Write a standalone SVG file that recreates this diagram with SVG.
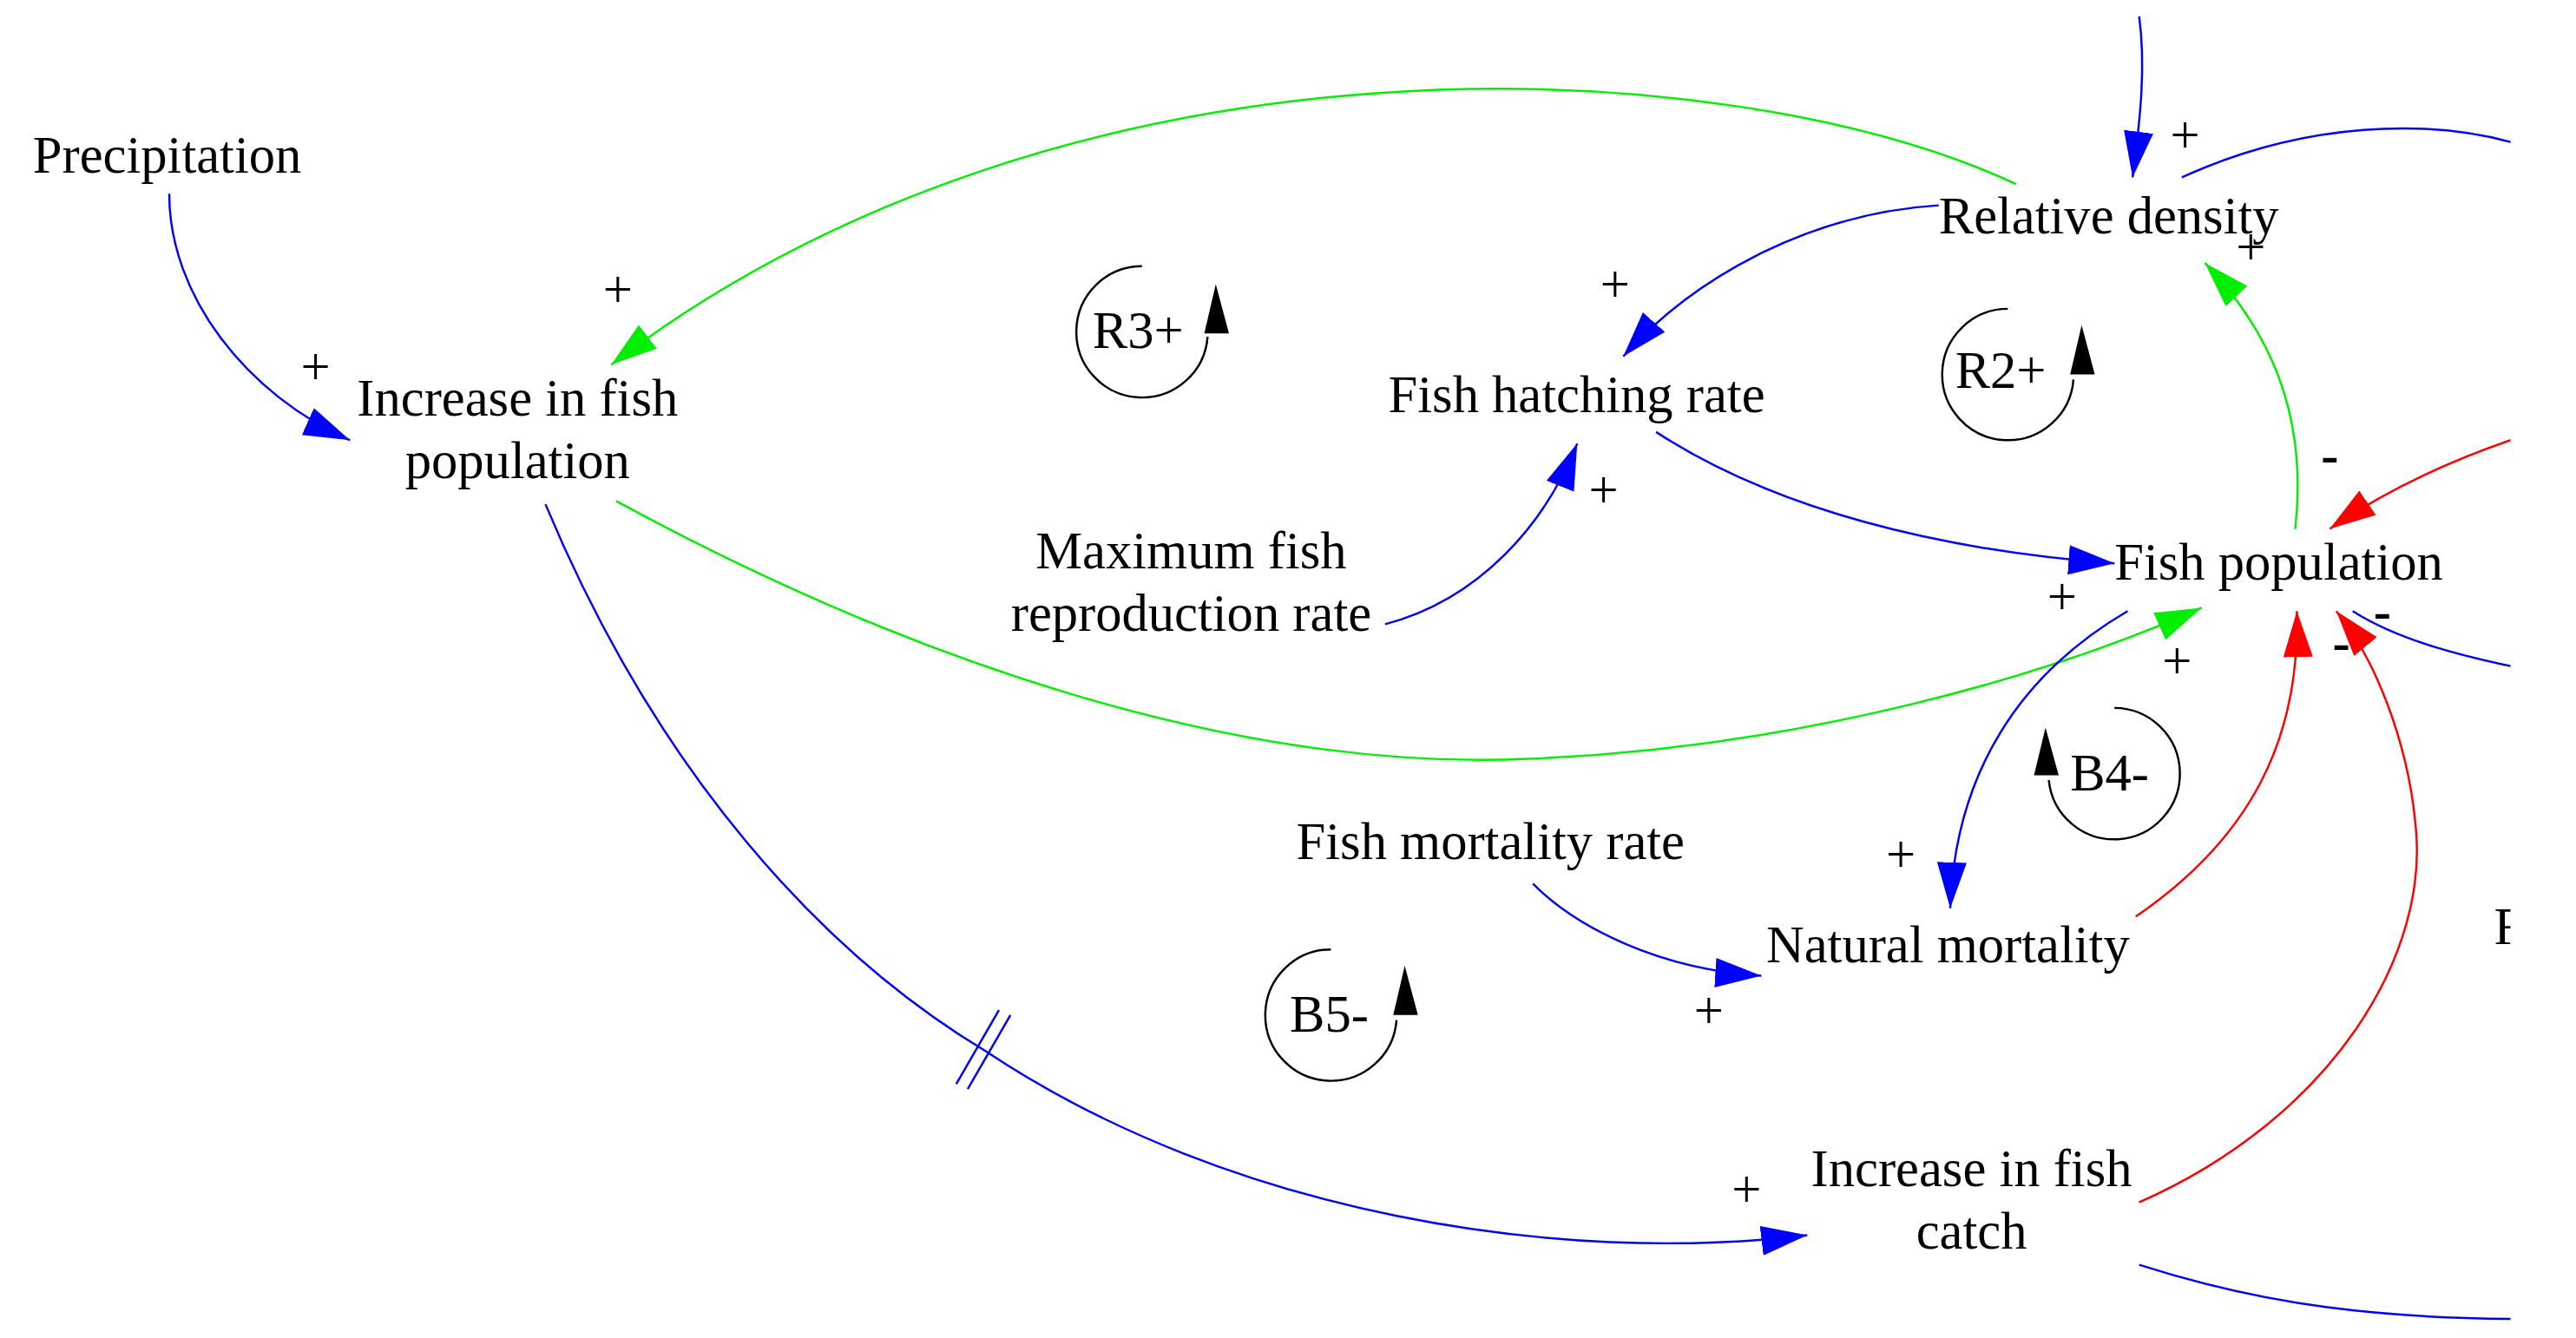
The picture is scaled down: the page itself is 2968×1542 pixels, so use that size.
<svg xmlns="http://www.w3.org/2000/svg" width="2968" height="1542" viewBox="0 0 2968 1542">
<style>
text{font-family:"Liberation Serif","Times New Roman",serif;font-size:32px;fill:#000}
.m{text-anchor:middle}
.c{fill:none;stroke-width:1.3}
.b{stroke:#0000ff}.g{stroke:#00ee00}.r{stroke:#ff0000}
.loop{fill:none;stroke:#000;stroke-width:1.3}
</style>
<defs>
<marker id="ab" markerUnits="userSpaceOnUse" markerWidth="30" markerHeight="20" refX="28" refY="9" orient="auto"><path d="M0,0 L28,9 L0,18 Z" fill="#0000ff"/></marker>
<marker id="ag" markerUnits="userSpaceOnUse" markerWidth="30" markerHeight="20" refX="28" refY="9" orient="auto"><path d="M0,0 L28,9 L0,18 Z" fill="#00ee00"/></marker>
<marker id="ar" markerUnits="userSpaceOnUse" markerWidth="30" markerHeight="20" refX="28" refY="9" orient="auto"><path d="M0,0 L28,9 L0,18 Z" fill="#ff0000"/></marker>
<clipPath id="clip"><rect x="0" y="0" width="1528" height="820"/></clipPath>
</defs>
<rect width="2968" height="1542" fill="#fff"/>
<g transform="scale(1.893)" clip-path="url(#clip)">
<g id="connectors">
<path class="c b" d="M103,118 C103,180 150,240 213,268" marker-end="url(#ab)"/>
<path class="c g" d="M1227,112 C1050,30 650,10 372,222" marker-end="url(#ag)"/>
<path class="c b" d="M1180,125 C1100,130 1030,170 988,217" marker-end="url(#ab)"/>
<path class="c b" d="M843,380 C900,365 940,320 960,270" marker-end="url(#ab)"/>
<path class="c b" d="M1008,263 C1080,310 1180,335 1287,343" marker-end="url(#ab)"/>
<path class="c g" d="M375,305 C550,400 750,470 930,462 C1100,455 1250,410 1340,370" marker-end="url(#ag)"/>
<path class="c g" d="M1397,322 C1405,250 1380,200 1342,160" marker-end="url(#ag)"/>
<path class="c b" d="M1302,10 C1306,40 1303,70 1298,108" marker-end="url(#ab)"/>
<path class="c b" d="M1328,108 C1400,75 1480,70 1540,90"/>
<path class="c r" d="M1540,264 C1490,280 1450,300 1418,322" marker-end="url(#ar)"/>
<path class="c b" d="M1432,372 C1460,390 1500,400 1540,408"/>
<path class="c b" d="M1295,372 C1230,410 1190,470 1187,553" marker-end="url(#ab)"/>
<path class="c r" d="M1300,558 C1370,510 1400,450 1398,372" marker-end="url(#ar)"/>
<path class="c r" d="M1302,732 C1420,680 1480,580 1470,500 C1465,450 1445,400 1422,372" marker-end="url(#ar)"/>
<path class="c b" d="M933,538 C960,565 1010,590 1072,594" marker-end="url(#ab)"/>
<path class="c b" d="M332,307 C400,470 500,580 600,640 C750,740 950,770 1100,752" marker-end="url(#ab)"/>
<path class="c b" d="M582,660 L608,615 M589,663 L615,618"/>
<path class="c b" d="M1302,770 C1380,795 1450,803 1540,803"/>
</g>
<g id="signs">
<text x="192" y="234" class="m" font-size="26">+</text>
<text x="376" y="187" class="m" font-size="26">+</text>
<text x="983" y="184" class="m" font-size="26">+</text>
<text x="976" y="309" class="m" font-size="26">+</text>
<text x="1255" y="374" class="m" font-size="26">+</text>
<text x="1325" y="413" class="m" font-size="26">+</text>
<text x="1370" y="161" class="m" font-size="26">+</text>
<text x="1330" y="93" class="m" font-size="26">+</text>
<text x="1157" y="531" class="m" font-size="26">+</text>
<text x="1040" y="626" class="m" font-size="26">+</text>
<text x="1063" y="735" class="m" font-size="26">+</text>
<text x="1418" y="288" class="m" font-size="26" font-weight="bold">-</text>
<text x="1450" y="383" class="m" font-size="26" font-weight="bold">-</text>
<text x="1425" y="402" class="m" font-size="26" font-weight="bold">-</text>
</g>
<g id="n-precipitation"><text x="20" y="105">Precipitation</text></g>
<g id="n-increase-pop"><text x="315" y="253" class="m">Increase in fish</text><text x="315" y="291" class="m">population</text></g>
<g id="n-relative-density"><text x="1180" y="142">Relative density</text></g>
<g id="n-hatching"><text x="845" y="251">Fish hatching rate</text></g>
<g id="n-max-repro"><text x="725" y="346" class="m">Maximum fish</text><text x="725" y="384" class="m">reproduction rate</text></g>
<g id="n-fish-pop"><text x="1287" y="353">Fish population</text></g>
<g id="n-mortality-rate"><text x="789" y="523">Fish mortality rate</text></g>
<g id="n-natural-mortality"><text x="1075" y="586">Natural mortality</text></g>
<g id="n-increase-catch"><text x="1200" y="722" class="m">Increase in fish</text><text x="1200" y="760" class="m">catch</text></g>
<g id="n-cut"><text x="1518" y="575">F</text><text x="932" y="-7">y</text></g>
<g id="loops">
<path class="loop" d="M695,162 A40,40 0 1 0 735,205"/><path d="M740,173 L733,203 L748,203 Z"/><text x="665" y="212">R3+</text>
<path class="loop" d="M1222,188 A40,40 0 1 0 1262,231"/><path d="M1267,198 L1260,228 L1275,228 Z"/><text x="1190" y="236">R2+</text>
<path class="loop" d="M1287,431 A40,40 0 1 1 1247,475"/><path d="M1245,443 L1238,472 L1253,472 Z"/><text x="1260" y="481">B4-</text>
<path class="loop" d="M810,578 A40,40 0 1 0 850,621"/><path d="M855,588 L848,618 L863,618 Z"/><text x="785" y="628">B5-</text>
</g>
</g>
</svg>
